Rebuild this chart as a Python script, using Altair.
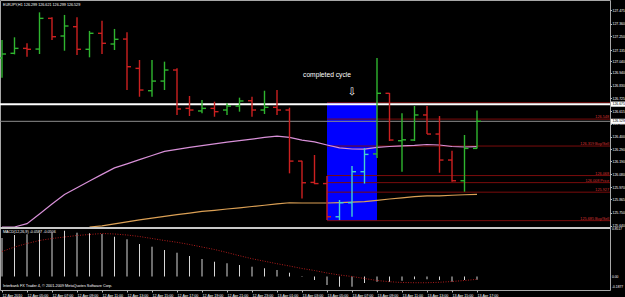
import altair as alt
import pandas as pd

# ---------------- data ----------------
bar_open = [127.067, 127.107, 127.149, 127.143, 127.404, 127.254, 127.333, 127.141, 127.277, 127.186,
            127.228, 126.979, 126.789, 126.871, 126.965, 126.639, 126.617, 126.639, 126.625, 126.659,
            126.704, 126.625, 126.648, 126.625, 126.191, 126.010, 126.000, 125.718, 125.837, 126.101,
            126.252, 126.767, 126.364, 126.370, 126.583, 126.421, 126.200, 126.024, 126.299]
bar_high = [127.220, 127.243, 127.192, 127.455, 127.413, 127.433, 127.413, 127.297, 127.384, 127.314,
            127.285, 127.050, 127.050, 127.036, 126.979, 126.744, 126.710, 126.696, 126.682, 126.730,
            126.738, 126.789, 126.795, 126.645, 126.195, 126.243, 126.064, 125.860, 126.149, 126.302,
            127.067, 126.770, 126.597, 126.659, 126.659, 126.574, 126.279, 126.413, 126.621]
bar_low = [126.900, 127.098, 127.078, 127.101, 127.220, 127.129, 127.093, 127.073, 127.101, 127.135,
           126.795, 126.738, 126.738, 126.795, 126.583, 126.574, 126.597, 126.568, 126.583, 126.611,
           126.568, 126.591, 126.583, 126.087, 125.874, 125.995, 125.690, 125.690, 125.718, 126.000,
           126.217, 126.362, 126.101, 126.362, 126.421, 126.092, 126.016, 125.931, 126.299]
bar_close = [127.101, 127.149, 127.141, 127.404, 127.248, 127.339, 127.141, 127.277, 127.192, 127.226,
             126.993, 126.795, 126.871, 126.965, 126.634, 126.625, 126.639, 126.611, 126.659, 126.702,
             126.625, 126.648, 126.625, 126.191, 126.007, 126.000, 125.718, 125.837, 126.101, 126.248,
             126.767, 126.370, 126.372, 126.583, 126.421, 126.200, 126.024, 126.299, 126.529]

ma_fast = [125.490, 125.574, 125.659, 125.742, 125.827, 125.907, 125.965, 126.022, 126.078, 126.133,
           126.168, 126.204, 126.239, 126.274, 126.291, 126.307, 126.323, 126.338, 126.352, 126.365,
           126.378, 126.392, 126.404, 126.392, 126.370, 126.354, 126.328, 126.303, 126.294, 126.292,
           126.307, 126.315, 126.320, 126.324, 126.332, 126.328, 126.315, 126.311, 126.314]
ma_slow_first_bar = 7
ma_slow = [125.625, 125.641, 125.658, 125.675, 125.692, 125.707, 125.721, 125.736, 125.749, 125.763,
           125.773, 125.784, 125.794, 125.805, 125.816, 125.827, 125.837, 125.835, 125.835, 125.835,
           125.838, 125.842, 125.846, 125.858, 125.869, 125.879, 125.889, 125.895, 125.896, 125.901,
           125.905, 125.909]

macd_main = [0.693, 0.747, 0.760, 0.778, 0.788, 0.824, 0.788, 0.778, 0.765, 0.716,
             0.670, 0.585, 0.536, 0.477, 0.428, 0.369, 0.315, 0.266, 0.238, 0.207,
             0.176, 0.148, 0.117, 0.068, 0.009, -0.063, -0.153, -0.184, -0.184, -0.117,
             -0.094, -0.094, -0.076, -0.050, -0.050, -0.063, -0.094, -0.063, -0.0587]
macd_signal = [0.450, 0.531, 0.594, 0.648, 0.684, 0.711, 0.738, 0.756, 0.774, 0.765,
               0.747, 0.720, 0.684, 0.648, 0.616, 0.576, 0.531, 0.486, 0.432, 0.374,
               0.320, 0.275, 0.230, 0.189, 0.144, 0.108, 0.063, 0.027, 0.000, -0.036,
               -0.072, -0.094, -0.108, -0.112, -0.112, -0.104, -0.090, -0.072, -0.0506]

time_labels = ["12 Apr 2010", "12 Apr 05:00", "12 Apr 07:00", "12 Apr 09:00", "12 Apr 11:00",
               "12 Apr 13:00", "12 Apr 15:00", "12 Apr 17:00", "12 Apr 19:00", "12 Apr 21:00",
               "12 Apr 23:00", "13 Apr 01:00", "13 Apr 03:00", "13 Apr 05:00", "13 Apr 07:00",
               "13 Apr 09:00", "13 Apr 11:00", "13 Apr 13:00", "13 Apr 15:00", "13 Apr 17:00"]
price_ticks = [127.475, 127.360, 127.250, 127.135, 127.040, 126.940, 126.830, 126.725, 126.615,
               126.510, 126.400, 126.290, 126.190, 126.080, 125.970, 125.865, 125.750, 125.640]

level_values = [126.687, 126.548, 126.319, 126.068, 126.008, 125.927, 125.685]
level_texts = ["", "126.548", "126.319 Buy/Sell", "126.068", "126.008 Price", "125.927", "125.685 Buy/Sell"]
white_line = 126.675
bid_line = 126.529
box_bars = [26, 30]
box_prices = [125.685, 126.687]
note_texts = ["completed cycle", "\u21e9"]
note_bars = [26, 28]
note_prices = [126.925, 126.776]
macd_tick_values = [0.8517, 0.0, -0.1877]
macd_tick_texts = ["0.8517", "0.00", "-0.1877"]
header_text = "EURJPY,H1  126.299 126.621 126.299 126.529"
macd_text = "MACD(12,26,9) -0.0587 -0.0506"
footer_text = "Interbank FX Trader 4, \u00a9 2001-2009 MetaQuotes Software Corp."

# ---------------- layout / scales ----------------
FONT = "Liberation Sans"
XMIN, XMAX = -0.16, 48.64
PMIN, PMAX = 125.631, 127.543
MMIN, MMAX = -0.243, 0.855
TICK = 0.32
GREEN, RED, CYAN = "#2fb52f", "#cc2020", "#45d0d0"
AXFS = 3.45

n = len(bar_open)
xs = alt.Scale(domain=[XMIN, XMAX], nice=False, zero=False)
x_axis = alt.Axis(orient="bottom", values=list(range(0, n, 2)),
                  labelExpr="[" + ",".join("'" + t + "'" for t in time_labels) + "][round(datum.value/2)]",
                  labelAlign="left", labelBaseline="top", labelFontSize=3.7, labelFont=FONT,
                  labelColor="white", tickColor="#bbbbbb", tickSize=2, labelPadding=1,
                  domain=False, grid=False, title=None, labelOverlap=False, labelFlush=False)
price_axis = alt.Axis(orient="right", values=price_ticks, format=".3f", labelFontSize=AXFS,
                      labelFont=FONT, labelColor="white", tickColor="#bbbbbb", tickSize=1.5,
                      labelPadding=0.5, domain=False, grid=False, title=None, labelOverlap=False,
                      labelFlush=False, labelBaseline="middle")


def ps(clamp=False):
    return alt.Scale(domain=[PMIN, PMAX], range=[227, 2], nice=False, zero=False, clamp=clamp)


ms = alt.Scale(domain=[MMIN, MMAX], range=[290, 229], nice=False, zero=False)


def X(f):
    return alt.X(f, type="quantitative", scale=xs, axis=x_axis)


def PY(f, axis=None, clamp=False):
    return alt.Y(f, type="quantitative", scale=ps(clamp), axis=axis)


def MY(f):
    return alt.Y(f, type="quantitative", scale=ms, axis=None)


# ---------------- tables ----------------
bars = pd.DataFrame({"i": list(range(n)), "o": bar_open, "h": bar_high, "l": bar_low, "c": bar_close})


def kind(r):
    up = r["c"] > r["o"]
    if up and box_bars[0] < r["i"] < box_bars[1]:
        return "upbox"
    return "up" if up else "down"


bars["kind"] = bars.apply(kind, axis=1)
bar_color = alt.Color("kind:N", scale=alt.Scale(domain=["up", "down", "upbox"], range=[GREEN, RED, CYAN]),
                      legend=None)

ma_df = pd.DataFrame({"i": list(range(n)), "v": ma_fast})
slow_df = pd.DataFrame({"i": list(range(ma_slow_first_bar, ma_slow_first_bar + len(ma_slow))), "v": ma_slow})
box_df = pd.DataFrame({"x0": [box_bars[0]], "x1": [box_bars[1]], "p0": [box_prices[0]], "p1": [box_prices[1]]})
lev_df = pd.DataFrame({"v": level_values, "t": level_texts})
lev_df["x0"] = box_bars[0]
lev_df["x1"] = XMAX
tag_df = pd.DataFrame({"v": [white_line, bid_line], "t": [f"{white_line:.3f}", f"{bid_line:.3f}"]})
tag_df["x0"] = XMAX + 0.08
tag_df["x1"] = XMAX + 2.0
tag_df["lo"] = tag_df["v"] - 0.022
tag_df["hi"] = tag_df["v"] + 0.022
note_df = pd.DataFrame({"i": note_bars, "p": note_prices, "t": note_texts})
macd_df = pd.DataFrame({"i": list(range(n)), "m": macd_main, "s": macd_signal})
mt_df = pd.DataFrame({"v": macd_tick_values, "t": macd_tick_texts})
mt_df["x"] = XMAX

# ---------------- layers ----------------
layers = []
layers.append(alt.Chart(box_df).mark_rect(color="#0000ff").encode(
    x=X("x0"), x2=alt.X2("x1"), y=PY("p0"), y2=alt.Y2("p1")))
layers.append(alt.Chart(lev_df).mark_rule(color="#7a0c0c", strokeWidth=1).encode(
    x=X("x0"), x2=alt.X2("x1"), y=PY("v")))
layers.append(alt.Chart(lev_df).mark_text(align="right", baseline="bottom", dx=-1, dy=0,
                                          fontSize=3.8, font=FONT, color="#d83030").encode(
    x=X("x1"), y=PY("v"), text="t:N"))
layers.append(alt.Chart(tag_df.iloc[[0]]).mark_rule(color="white", strokeWidth=2).encode(y=PY("v")))
layers.append(alt.Chart(tag_df.iloc[[1]]).mark_rule(color="#8c8c8c", strokeWidth=1).encode(y=PY("v")))
layers.append(alt.Chart(ma_df).mark_line(color="#d890d8", strokeWidth=1.2).encode(
    x=X("i"), y=PY("v", clamp=True)))
layers.append(alt.Chart(slow_df).mark_line(color="#dba055", strokeWidth=1.2).encode(
    x=X("i"), y=PY("v", clamp=True)))
# OHLC bars
layers.append(alt.Chart(bars).mark_rule(strokeWidth=1.4).encode(
    x=X("i"), y=PY("l", axis=price_axis), y2=alt.Y2("h"), color=bar_color))
layers.append(alt.Chart(bars).transform_calculate(a=f"datum.i - {TICK}").mark_rule(strokeWidth=1.4).encode(
    x=X("a:Q"), x2=alt.X2("i"), y=PY("o"), color=bar_color))
layers.append(alt.Chart(bars).transform_calculate(b=f"datum.i + {TICK}").mark_rule(strokeWidth=1.4).encode(
    x=X("i"), x2=alt.X2("b:Q"), y=PY("c"), color=bar_color))
# annotations
layers.append(alt.Chart(note_df.iloc[[0]]).mark_text(fontSize=6.7, font=FONT, color="white").encode(
    x=X("i"), y=PY("p"), text="t:N"))
layers.append(alt.Chart(note_df.iloc[[1]]).mark_text(fontSize=10, font="DejaVu Sans", color="white").encode(
    x=X("i"), y=PY("p"), text="t:N"))
# price tags on the axis
layers.append(alt.Chart(tag_df).mark_rect(color="white").encode(
    x=X("x0"), x2=alt.X2("x1"), y=PY("lo"), y2=alt.Y2("hi")))
layers.append(alt.Chart(tag_df).mark_text(align="left", baseline="middle", dx=1.5, fontSize=AXFS, font=FONT,
                                          color="black").encode(x=X("x0"), y=PY("v"), text="t:N"))
# header / footer texts
layers.append(alt.Chart(pd.DataFrame({"t": [header_text]})).mark_text(
    align="left", baseline="top", fontSize=3.7, font=FONT, color="white").encode(
    x=alt.value(3), y=alt.value(2.5), text="t:N"))
layers.append(alt.Chart(pd.DataFrame({"t": [macd_text]})).mark_text(
    align="left", baseline="top", fontSize=3.7, font=FONT, color="white").encode(
    x=alt.value(3), y=alt.value(229.5), text="t:N"))
layers.append(alt.Chart(pd.DataFrame({"t": [footer_text]})).mark_text(
    align="left", baseline="middle", fontSize=3.8, font=FONT, color="white").encode(
    x=alt.value(3), y=alt.value(286.3), text="t:N"))
# MACD
layers.append(alt.Chart(macd_df).transform_calculate(z="0").mark_rule(color="#d8d8d8", strokeWidth=1).encode(
    x=X("i"), y=MY("z:Q"), y2=alt.Y2("m")))
layers.append(alt.Chart(macd_df).mark_line(color="#b01c1c", strokeWidth=1, strokeDash=[1, 1.5]).encode(
    x=X("i"), y=MY("s")))
layers.append(alt.Chart(mt_df).mark_text(align="left", baseline="middle", dx=2, fontSize=3.3, font=FONT,
                                         color="white").encode(x=X("x"), y=MY("v"), text="t:N"))
# panel separator
layers.append(alt.Chart(pd.DataFrame({"a": [0]})).mark_rule(color="#c8c8c8", strokeWidth=2).encode(
    x=alt.value(0), x2=alt.value(610), y=alt.value(228)))

chart = alt.layer(*layers).resolve_scale(y="independent").properties(
    width=610, height=290,
    padding={"left": 0, "top": 0, "right": 15, "bottom": 7},
    autosize=alt.AutoSizeParams(type="none"),
    background="black",
).configure_view(stroke="#a8a8a8", strokeWidth=1)

chart.save("out.html", embed_options={"renderer": "svg", "actions": False})
